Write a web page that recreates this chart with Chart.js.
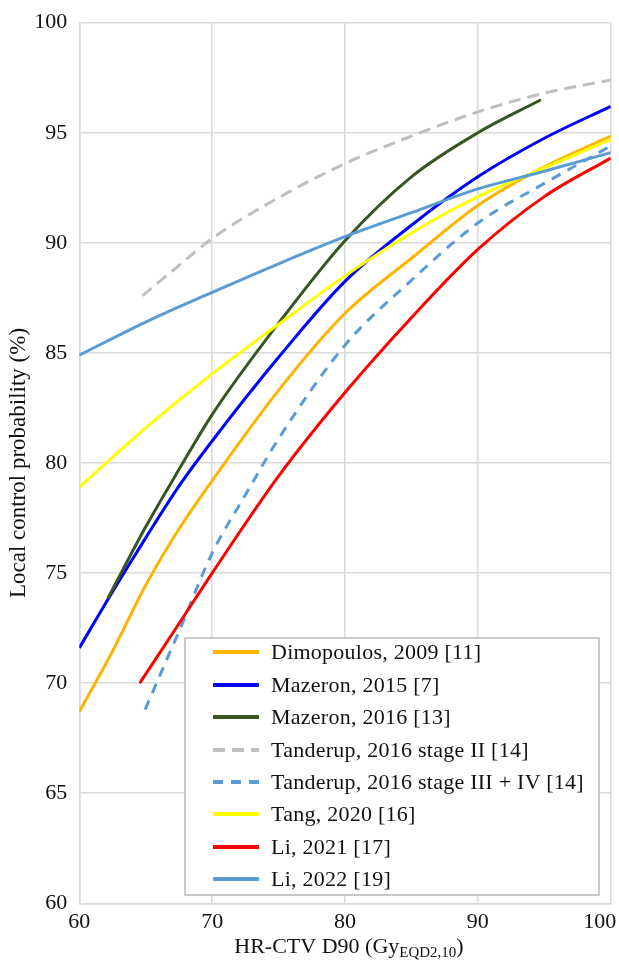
<!DOCTYPE html>
<html><head><meta charset="utf-8">
<script src="https://cdn.jsdelivr.net/npm/chart.js@4.4.1/dist/chart.umd.min.js"></script>
<style>
html,body{margin:0;padding:0;background:#fff;}
#wrap{position:relative;width:619px;height:961px;overflow:hidden;}
canvas{position:absolute;left:0;top:0;}
#legend{position:absolute;left:184px;top:637px;width:416px;height:259px;box-sizing:border-box;border:2px solid #c9c9c9;background:#fff;font-family:"Liberation Serif",serif;font-size:22px;letter-spacing:0.25px;color:#111;}
.row{position:absolute;left:0;height:32px;line-height:32px;white-space:nowrap;}
.row svg{position:absolute;left:27px;top:13px;}
.row span{position:absolute;left:85px;top:0;}
</style></head>
<body><div id="wrap"><canvas id="c" width="619" height="961"></canvas><div id="legend"></div></div>
<script>
// ---- data ----
const seriesLabels = [
  'Dimopoulos, 2009 [11]',
  'Mazeron, 2015 [7]',
  'Mazeron, 2016 [13]',
  'Tanderup, 2016 stage II [14]',
  'Tanderup, 2016 stage III + IV [14]',
  'Tang, 2020 [16]',
  'Li, 2021 [17]',
  'Li, 2022 [19]'
];
const dimopoulosX = [60, 62.5, 65, 67.5, 70, 75, 80, 85, 90, 95, 100];
const dimopoulosY = [68.7, 71.45, 74.45, 77.0, 79.2, 83.3, 86.8, 89.3, 91.7, 93.45, 94.85];
const mazeron2015X = [60, 62.5, 65, 67.5, 70, 75, 80, 85, 90, 95, 100];
const mazeron2015Y = [71.6, 74.15, 76.6, 78.95, 81.0, 84.8, 88.25, 90.8, 93.0, 94.75, 96.2];
const mazeron2016X = [62.15, 65, 67.5, 70, 75, 80, 85, 90, 94.75];
const mazeron2016Y = [73.85, 77.1, 79.7, 82.2, 86.35, 90.1, 93.0, 95.0, 96.5];
const tanderupIIX = [64.75, 67.5, 70, 75, 80, 85, 90, 95, 100];
const tanderupIIY = [87.6, 88.97, 90.2, 92.05, 93.6, 94.85, 95.95, 96.8, 97.4];
const tanderupIIIX = [64.95, 67.5, 70, 72.5, 75, 80, 85, 90, 95, 100];
const tanderupIIIY = [68.8, 72.35, 75.9, 78.55, 81.1, 85.35, 88.3, 90.9, 92.7, 94.4];
const tangX = [60, 65, 70, 75, 80, 85, 90, 95, 100];
const tangY = [78.9, 81.6, 84.05, 86.3, 88.5, 90.45, 92.1, 93.4, 94.7];
const li2021X = [64.55, 67.5, 70, 75, 80, 85, 90, 95, 100];
const li2021Y = [70.0, 72.7, 75.0, 79.4, 83.2, 86.6, 89.7, 92.1, 93.85];
const li2022X = [60, 65, 70, 75, 80, 85, 90, 95, 100];
const li2022Y = [84.9, 86.4, 87.75, 89.05, 90.28, 91.37, 92.45, 93.25, 94.1];

const xTickValues = [60, 70, 80, 90, 100];
const xTickLabels = ['60', '70', '80', '90', '100\u2007\u2007'];
const yTickValues = [60, 65, 70, 75, 80, 85, 90, 95, 100];
const yTickLabels = ['60', '65', '70', '75', '80', '85', '90', '95', '100'];
const yTitle = 'Local control probability (%)';
const xTitleMain = 'HR-CTV D90 (Gy';
const xTitleSub = 'EQD2,10';
const xTitleEnd = ')';

// ---- styles ----
const seriesXs = [dimopoulosX, mazeron2015X, mazeron2016X, tanderupIIX, tanderupIIIX, tangX, li2021X, li2022X];
const seriesYs = [dimopoulosY, mazeron2015Y, mazeron2016Y, tanderupIIY, tanderupIIIY, tangY, li2021Y, li2022Y];
const colors = ['#FFB400', '#0000FF', '#375623', '#BFBFBF', '#5B9BD5', '#FFFF00', '#FF0000', '#5B9BD5'];
const dashes = [null, null, null, [12, 7], [10, 8], null, null, null];

const FONT = '"Liberation Serif", serif';
const datasets = seriesLabels.map((label, i) => ({
  label,
  data: seriesXs[i].map((x, j) => ({x, y: seriesYs[i][j]})),
  borderColor: colors[i],
  backgroundColor: colors[i],
  borderWidth: 3,
  borderDash: dashes[i] || [],
  pointRadius: 0,
  cubicInterpolationMode: 'monotone',
  fill: false,
  order: seriesLabels.length - i
}));

const xTitlePlugin = {
  id: 'xTitle',
  afterDraw(chart) {
    const ctx = chart.ctx, a = chart.chartArea;
    ctx.save();
    const main = '22px ' + FONT, sub = '15px ' + FONT;
    ctx.font = main;
    const w1 = ctx.measureText(xTitleMain).width;
    const w3 = ctx.measureText(xTitleEnd).width;
    ctx.font = sub;
    const w2 = ctx.measureText(xTitleSub).width;
    let x = (a.left + a.right) / 2 - (w1 + w2 + w3) / 2 + 4;
    const y = 953;
    ctx.fillStyle = '#111';
    ctx.textAlign = 'left';
    ctx.textBaseline = 'alphabetic';
    ctx.font = main; ctx.fillText(xTitleMain, x, y); x += w1;
    ctx.font = sub; ctx.fillText(xTitleSub, x, y + 4); x += w2;
    ctx.font = main; ctx.fillText(xTitleEnd, x, y);
    ctx.restore();
  }
};

const gridColor = '#d9d9d9';
const chart = new Chart(document.getElementById('c'), {
  type: 'line',
  data: {datasets},
  options: {
    responsive: false,
    animation: false,
    layout: {padding: {top: 22.7, right: 8.3, left: 0, bottom: 0}},
    plugins: {legend: {display: false}, tooltip: {enabled: false}},
    scales: {
      x: {
        type: 'linear', min: 60, max: 100,
        afterBuildTicks: s => { s.ticks = xTickValues.map(v => ({value: v})); },
        ticks: {
          callback: (v) => xTickLabels[xTickValues.indexOf(v)],
          font: {family: FONT, size: 22}, color: '#111', padding: 6,
          maxRotation: 0, autoSkip: false
        },
        grid: {color: gridColor, lineWidth: 1.5, drawTicks: false},
        border: {color: gridColor, width: 1.5},
        afterFit: s => { s.height = 57.7; s.paddingLeft = 0; s.paddingRight = 0; }
      },
      y: {
        type: 'linear', min: 60, max: 100,
        afterBuildTicks: s => { s.ticks = yTickValues.map(v => ({value: v})); },
        ticks: {
          callback: (v) => yTickLabels[yTickValues.indexOf(v)],
          font: {family: FONT, size: 22}, color: '#111', padding: 12, autoSkip: false
        },
        title: {display: true, text: yTitle, font: {family: FONT, size: 23}, color: '#111', padding: {top: 5, bottom: 0}},
        grid: {color: gridColor, lineWidth: 1.5, drawTicks: false},
        border: {color: gridColor, width: 1.5},
        afterFit: s => { s.width = 79.3; s.paddingTop = 0; s.paddingBottom = 0; }
      }
    }
  },
  plugins: [xTitlePlugin]
});

// ---- legend (HTML, built from the chart datasets) ----
const leg = document.getElementById('legend');
const legendFirstCenter = 15.4, legendStep = 32.4;
chart.data.datasets.forEach((ds, i) => {
  const row = document.createElement('div');
  row.className = 'row';
  row.style.top = (legendFirstCenter - 2 - 16 + i * legendStep) + 'px';
  const dash = ds.borderDash && ds.borderDash.length ? ` stroke-dasharray="${ds.borderDash.join(' ')}"` : '';
  row.innerHTML = `<svg width="46" height="6"><line x1="0" y1="3" x2="46" y2="3" stroke="${ds.borderColor}" stroke-width="4"${dash}/></svg><span></span>`;
  row.querySelector('span').textContent = ds.label;
  leg.appendChild(row);
});
</script></body></html>
